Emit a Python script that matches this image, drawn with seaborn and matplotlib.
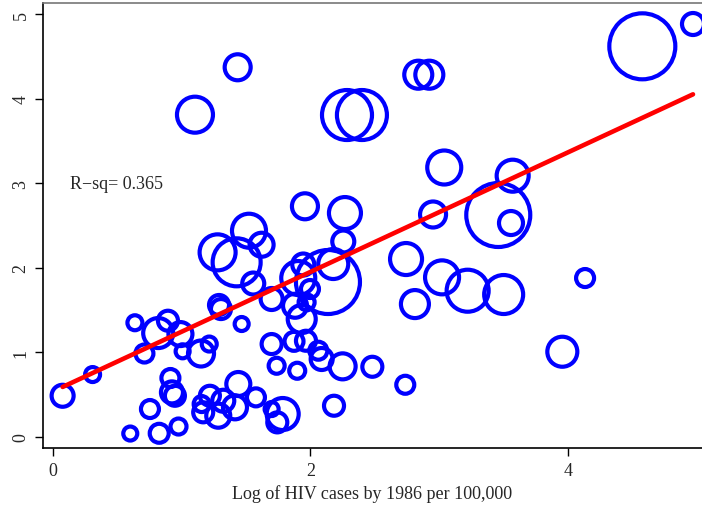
import numpy as np
import pandas as pd
import matplotlib
matplotlib.use("Agg")
import matplotlib.pyplot as plt
import seaborn as sns

# Log of HIV cases by 1986 per 100,000 (x) and outcome (y), bubble weight
hiv_log = [1.434, 1.102, 2.284, 2.400, 2.838, 2.924, 4.580, 4.974,
           3.040, 3.572, 3.460, 3.559, 2.953, 2.743, 3.023, 3.222, 3.502, 2.812,
           4.135, 3.958, 2.481, 2.737,
           2.268, 2.255, 1.957, 1.522, 1.620, 1.278, 1.426, 1.555, 1.944, 2.177,
           1.905, 2.136, 1.698, 1.880, 1.932, 1.970, 1.996, 1.289, 1.304, 1.465,
           1.698, 1.737, 1.897, 1.872, 1.965, 2.061, 2.087, 2.250, 2.183, 1.439,
           1.576, 1.784, 1.742, 1.698,
           0.073, 0.306, 0.635, 0.709, 0.816, 0.892, 0.989, 1.006, 1.149, 1.213,
           0.752, 0.599, 0.824, 0.974, 0.911, 0.923, 0.946,
           1.218, 1.154, 1.166, 1.283, 1.322, 1.413]
outcome = [4.372, 3.811, 3.807, 3.807, 4.284, 4.284, 4.620, 4.884,
           3.186, 3.089, 2.624, 2.529, 2.630, 2.103, 1.886, 1.728, 1.683, 1.570,
           1.878, 1.006, 0.828, 0.615,
           2.647, 2.310, 2.727, 2.438, 2.272, 2.182, 2.064, 1.813, 2.038, 2.044,
           1.878, 1.831, 1.630, 1.550, 1.393, 1.591, 1.748, 1.559, 1.511, 1.334,
           1.097, 0.840, 0.781, 1.129, 1.136, 1.018, 0.920, 0.833, 0.367, 0.624,
           0.466, 0.269, 0.170, 0.328,
           0.485, 0.736, 1.349, 0.985, 1.227, 1.373, 1.215, 1.011, 0.985, 1.097,
           0.328, 0.038, 0.041, 0.121, 0.695, 0.525, 0.485,
           0.485, 0.387, 0.289, 0.249, 0.426, 0.348]
weight = [169, 324, 625, 625, 196, 196, 1089, 121,
          289, 256, 1024, 144, 169, 256, 289, 441, 380, 196,
          81, 225, 100, 81,
          256, 121, 169, 289, 144, 324, 576, 121, 121, 225,
          289, 1024, 121, 144, 196, 64, 81, 100, 100, 49,
          100, 64, 64, 90, 100, 81, 121, 169, 100, 144,
          81, 256, 100, 49,
          121, 56, 56, 81, 225, 100, 144, 49, 169, 56,
          81, 49, 90, 64, 81, 121, 100,
          100, 64, 100, 144, 121, 144]
xticks = [0, 2, 4]
yticks = [0, 1, 2, 3, 4, 5]
rsq_label = "R\u2212sq= 0.365"
xlabel = "Log of HIV cases by 1986 per 100,000"

df = pd.DataFrame({"x": hiv_log, "y": outcome, "w": weight})

# weighted linear fit (analytic weights = bubble weight)
slope, intercept = np.polyfit(df["x"], df["y"], 1, w=np.sqrt(df["w"]))
fit = pd.DataFrame({"x": [df["x"].min(), df["x"].max()]})
fit["y"] = intercept + slope * fit["x"]

sns.set_theme(style="white")
plt.rcParams["font.family"] = ["Liberation Serif", "DejaVu Serif"]
plt.rcParams["font.size"] = 13

DPI = 100
fig = plt.figure(figsize=(7.02, 5.06), dpi=DPI)
ax = fig.add_axes([0.0608, 0.112, 0.9392, 0.881])

k = (2 * 72 / DPI) ** 2
wmin, wmax = min(weight), max(weight)
sns.scatterplot(data=df, x="x", y="y", size="w", sizes=(k * wmin, k * wmax),
                size_norm=(wmin, wmax), marker="o", facecolors="none",
                edgecolor="#0000ff", linewidth=3.0, legend=False, ax=ax, zorder=2)
sns.lineplot(data=fit, x="x", y="y", color="#ff0000", lw=3.3, zorder=3, ax=ax)

ax.text(0.13, 3.0, rsq_label, ha="left", va="center", fontsize=13)

ax.set_xlim(-0.082, 5.044)
ax.set_ylim(-0.137, 5.138)
ax.set_xticks(xticks)
ax.set_yticks(yticks)
ax.set_xticklabels([str(t) for t in xticks])
ax.set_yticklabels([str(t) for t in yticks], rotation=90, va="center")
ax.tick_params(axis="both", direction="out", length=5.5, width=1, color="black",
               labelsize=13, pad=4, bottom=True, left=True)
ax.set_xlabel(xlabel, fontsize=13, labelpad=4)
ax.set_ylabel("")
for side in ["left", "bottom"]:
    ax.spines[side].set_color("black")
    ax.spines[side].set_linewidth(1.2)
ax.spines["top"].set_color("#777777")
ax.spines["top"].set_linewidth(1.2)
ax.spines["right"].set_visible(False)

fig.savefig("out.png", dpi=DPI)
